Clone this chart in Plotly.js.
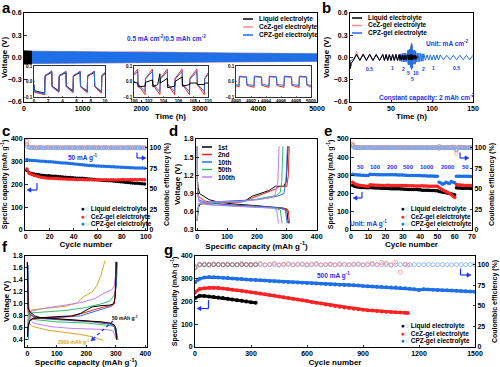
<!DOCTYPE html>
<html><head><meta charset="utf-8">
<script src="https://cdn.plot.ly/plotly-3.0.1.min.js"></script>
<style>html,body{margin:0;padding:0;background:#fff}#chart{width:500px;height:367px}</style>
</head><body><div id="chart"></div>
<script>
// ---------- DATA ----------
// (a) long-term cycling envelope, 0.5 mA cm-2
const aT = [0,500,1000,1500,2000,2500,3000,3500,4000,4500,5000];
const aCpzUp = [0.085,0.08,0.076,0.072,0.07,0.068,0.064,0.06,0.057,0.054,0.05];
const aCpzLo = [-0.08,-0.077,-0.074,-0.071,-0.068,-0.066,-0.063,-0.06,-0.057,-0.054,-0.05];
const aCezUp = [0.085,0.08,0.077,0.074,0.078,0.077,0.066,0.061,0.058,0.055,0.051];
const aCezLo = [-0.082,-0.079,-0.076,-0.073,-0.072,-0.07,-0.065,-0.061,-0.058,-0.055,-0.052];
const aLiqT = [0,20,40,60,80,100,120,135];
const aLiqUp = [0.09,0.09,0.088,0.088,0.087,0.087,0.086,0.086];
const aLiqLo = [-0.09,-0.09,-0.088,-0.088,-0.087,-0.087,-0.086,-0.086];
// insets
const in1T = [0,0.1,1.5,1.55,2.5,2.55,3.5,3.55,4.5,4.55,5.5,5.55,6.5,6.55,7.5,7.55,8.5,8.55,9.5,9.55,10];
const in1Liq = [-0.02,-0.06,-0.075,0.035,0.06,-0.03,-0.06,0.035,0.058,-0.03,-0.06,0.035,0.058,-0.03,-0.062,0.035,0.058,-0.03,-0.065,0.035,0.05];
const in1Cez = [-0.03,-0.07,-0.085,0.03,0.07,-0.035,-0.07,0.03,0.068,-0.035,-0.072,0.03,0.068,-0.035,-0.072,0.03,0.068,-0.035,-0.075,0.03,0.06];
const in1Cpz = [-0.025,-0.065,-0.08,0.04,0.065,-0.03,-0.065,0.04,0.062,-0.03,-0.065,0.04,0.062,-0.03,-0.066,0.04,0.062,-0.03,-0.068,0.04,0.055];
const in2T = [100,100.5,100.55,101.5,101.55,102.5,102.55,103.5,103.55,104.5,104.55,105.5,105.55,106.5,106.55,107.5,107.55,108.5,108.55,109.5,109.55,110];
const in2Cpz = [0.04,0.065,-0.015,-0.065,0.015,0.065,-0.015,-0.065,0.015,0.065,-0.015,-0.065,0.015,0.065,-0.015,-0.065,0.015,0.065,-0.015,-0.065,0.015,0.045];
const in2Cez = [0.05,0.08,-0.02,-0.085,0.02,0.08,-0.02,-0.085,0.02,0.08,-0.02,-0.085,0.02,0.08,-0.02,-0.085,0.02,0.08,-0.02,-0.085,0.02,0.055];
const in2LiqT = [100,100.5,100.55,101.5,101.55,102.5,102.55,103.2,103.5,103.55,104.5,104.55,105.5,105.55,106.5,106.55,107.5,107.55,108.5,108.55,109.5,109.55,110];
const in2Liq = [-0.005,-0.01,-0.035,-0.03,-0.005,0.01,-0.035,-0.02,0.05,-0.01,0.02,-0.04,-0.03,0.0,0.03,-0.03,-0.02,-0.01,-0.01,-0.02,-0.02,-0.01,-0.01];
const in3T = [4990,4990.4,4990.45,4991.4,4991.45,4992.4,4992.45,4993.4,4993.45,4994.4,4994.45,4995.4,4995.45,4996.4,4996.45,4997.4,4997.45,4998.4,4998.45,4999.4,4999.45,5000];
const in3Cpz = [-0.02,-0.025,0.035,0.03,-0.02,-0.025,0.035,0.03,-0.02,-0.025,0.035,0.03,-0.02,-0.025,0.035,0.03,-0.02,-0.025,0.035,0.03,-0.02,-0.025];
const in3Cez = [-0.028,-0.035,0.03,0.028,-0.025,-0.038,0.03,0.028,-0.025,-0.038,0.03,0.028,-0.025,-0.038,0.03,0.028,-0.025,-0.038,0.03,0.028,-0.025,-0.036];

// (b) rate test, 2 mAh cm-2
const bCpzT = [0,4,8,12,16,20,24,28,32,36,40,
 42,44,46,48,50,52,54,56,58,60,
 61,62,63,64,65,66,67,68,69,70,
 70.4,70.8,71.2,71.6,72,72.4,72.8,73.2,73.6,74,
 74.2,74.4,74.6,74.8,75,75.2,75.4,75.6,75.8,76,
 76.4,76.8,77.2,77.6,78,78.4,78.8,79.2,79.6,80,
 81,82,83,84,85,86,87,88,89,90,
 92,94,96,98,100,102,104,106,108,110,
 114,118,122,126,130,134,138,142,146,150];
const bCpzV = [-0.04,-0.03,0.03,-0.03,0.03,-0.03,0.03,-0.03,0.03,-0.03,0.03,
 -0.035,0.035,-0.035,0.035,-0.035,0.035,-0.035,0.035,-0.035,0.035,
 -0.05,0.05,-0.055,0.055,-0.06,0.06,-0.06,0.06,-0.06,0.065,
 -0.09,0.1,-0.1,0.1,-0.1,0.11,-0.1,0.11,-0.1,0.12,
 -0.14,0.15,-0.16,0.17,-0.16,0.18,-0.15,0.17,-0.14,0.16,
 -0.1,0.1,-0.09,0.1,-0.09,0.1,-0.09,0.09,-0.09,0.09,
 -0.06,0.06,-0.06,0.06,-0.055,0.055,-0.05,0.05,-0.05,0.05,
 -0.035,0.035,-0.035,0.035,-0.035,0.035,-0.035,0.035,-0.035,0.035,
 -0.03,0.03,-0.03,0.03,-0.03,0.03,-0.03,0.03,-0.03,0.03];
const bLiqT = [0,0.5,1.5,4,8,12,16,20,24,28,32,36,40,
 42,44,46,48,50,52,54,56,58,60,
 61,62,63,64,65,66,67,68,69,70,
 70.4,70.8,71.2,71.6,72,72.4,72.8,73.2,73.6,74,
 74.2,74.4,74.6,74.8,75,75.2,75.4,75.6,75.8,76,
 76.4,76.8,77.2,77.6,78,78.4,78.8,79.2,79.6,80,
 81,82];
const bLiqV = [-0.05,-0.15,-0.08,-0.04,0.045,-0.04,0.045,-0.04,0.045,-0.04,0.04,-0.04,0.04,
 -0.04,0.04,-0.04,0.04,-0.04,0.04,-0.04,0.04,-0.04,0.04,
 -0.03,0.03,-0.03,0.03,-0.03,0.03,-0.03,0.03,-0.03,0.03,
 -0.03,0.035,-0.03,0.035,-0.03,0.035,-0.03,0.035,-0.03,0.035,
 -0.03,0.04,-0.035,0.045,-0.035,0.04,-0.03,0.04,-0.03,0.04,
 -0.025,0.03,-0.025,0.03,-0.025,0.03,-0.025,0.03,-0.025,0.03,
 -0.02,0.02];
const bCezV = [-0.05,-0.14,-0.07,-0.045,0.08,-0.045,0.05,-0.045,0.05,-0.045,0.05,-0.045,0.05,
 -0.045,0.045,-0.045,0.045,-0.045,0.045,-0.045,0.045,-0.045,0.045,
 -0.045,0.045,-0.05,0.05,-0.05,0.05,-0.05,0.05,-0.05,0.05,
 -0.08,0.09,-0.08,0.1,-0.08,0.1,-0.08,0.1,-0.08,0.1,
 -0.12,0.15,-0.13,0.2,-0.13,0.19,-0.12,0.15,-0.12,0.14,
 -0.08,0.09,-0.08,0.09,-0.08,0.08,-0.08,0.08,-0.08,0.08,
 -0.04,0.04];
const bRateLabels = ['0.5','1','2','5','10','5','2','1','0.5'];

// (c) cycling at 50 mA g-1
const cCyc = [1,3,5,7,9,11,13,15,17,19,21,23,25,27,29,31,33,35,37,39,41,43,45,47,49,51,53,55,57,59,61,63,65,67,69,71,73,75,77,79,81,83,85,87,89,91,93,95,97,99];
const cLiq = [262,252,248,246,244,243,241,240,239,238,237,236,236,235,234,233,232,231,231,230,229,228,228,227,226,225,224,223,222,221,220,219,218,218,217,216,215,214,213,212,211,210,209,208,207,206,205,204,203,202];
const cCez = [268,250,244,240,237,234,232,230,229,228,227,226,226,225,225,224,224,223,223,223,222,222,222,222,221,221,221,221,220,221,221,220,221,221,220,221,221,220,221,221,222,221,221,222,221,222,221,222,221,221];
const cCpz = [310,307,306,305,304,303,302,302,301,300,300,299,298,297,296,295,294,293,292,291,290,289,288,287,286,285,284,283,282,281,281,280,280,279,279,278,278,277,277,276,276,275,275,274,274,273,273,272,272,271];
const cCeLiq = [104,100.3,99.8,100.2,99.9,100.1,100.4,99.7,100,100.2,99.8,100.1,99.9,100.3,100,99.8,100.2,100,99.9,100.1,100.2,99.8,100,100.1,99.9,100.2,99.8,100,100.3,99.9,100.1,99.8,100,100.2,99.9,100.1,100,99.8,100.2,100,99.9,100.1,99.8,100.2,100,99.9,100.1,100,99.8,100.1];
const cCeCez = [108,101,100.5,100.2,100.4,100.1,100.3,99.9,100.2,100.4,100,100.2,100.5,100.1,99.9,100.3,100.2,100,100.4,100.1,100.3,99.9,100.2,100.5,100,100.1,100.3,100.2,99.9,100.4,100.1,100,100.3,100.2,99.9,100.1,100.4,100,100.2,100.1,99.9,100.3,100.2,100,100.1,100.4,100,100.2,99.9,100.1];
const cCeCpz = [101.5,100,99.6,99.8,99.5,99.9,99.7,99.6,99.8,100,99.6,99.7,99.9,99.5,99.8,99.7,99.6,99.9,99.8,99.6,99.7,99.9,99.5,99.8,99.7,99.6,99.9,99.8,99.7,99.6,99.8,99.5,99.7,99.9,99.6,99.8,99.7,99.6,99.9,99.7,99.8,99.6,99.5,99.8,99.7,99.9,99.6,99.8,99.7,99.6];

// (d) charge/discharge profiles (discharge, null, charge)
const dX1 = [0,3,8,20,40,70,120,200,260,290,300,303,305,null,0,3,10,60,160,185,210,240,262,290,298,302,304];
const dY1 = [1.18,1.0,0.9,0.86,0.8,0.76,0.73,0.7,0.68,0.66,0.63,0.5,0.41,null,0.45,0.65,0.74,0.76,0.78,0.86,0.9,0.95,1.02,1.02,1.1,1.4,1.68];
const dX2 = [0,1,5,25,60,110,200,270,300,305,307,309,null,0,5,50,150,180,210,240,265,275,300,305,308];
const dY2 = [1.68,1.0,0.85,0.78,0.74,0.71,0.69,0.67,0.65,0.62,0.5,0.41,null,0.5,0.72,0.75,0.76,0.82,0.88,0.93,0.98,1.02,1.02,1.2,1.68];
const dX10 = [0,1,5,30,100,200,270,295,299,301,null,0,5,40,150,200,240,270,290,297,300,302];
const dY10 = [1.68,0.95,0.8,0.75,0.72,0.69,0.67,0.63,0.5,0.41,null,0.5,0.73,0.76,0.78,0.8,0.83,0.86,0.9,1.1,1.4,1.68];
const dX50 = [0,1,5,30,100,200,260,278,282,284,null,0,5,40,150,200,240,265,278,283,285,287];
const dY50 = [1.68,0.95,0.78,0.72,0.7,0.68,0.66,0.63,0.5,0.41,null,0.45,0.72,0.75,0.77,0.81,0.84,0.87,0.92,1.1,1.4,1.68];
const dX100 = [0,1,5,30,100,200,255,266,270,272,null,0,4,40,150,200,240,260,270,272,274];
const dY100 = [1.68,0.95,0.77,0.72,0.7,0.68,0.66,0.63,0.5,0.41,null,0.45,0.73,0.76,0.77,0.8,0.83,0.86,1.1,1.4,1.68];
const dNames = ['1st','2nd','10th','50th','100th'];

// (e) rate performance
const eCyc = [1,2,3,4,5,6,7,8,9,10,11,12,13,14,15,16,17,18,19,20,21,22,23,24,25,26,27,28,29,30,31,32,33,34,35,36,37,38,39,40,41,42,43,44,45,46,47,48,49,50,51,52,53,54,55,56,57,58,59,60,61,62,63,64,65,66,67,68,69,70];
const eLiq = [245,240,238,236,235,234,233,233,232,232,233,232,232,231,231,231,230,230,230,230,228,228,227,227,227,226,226,226,225,225,224,224,223,223,223,222,222,222,221,221,219,219,218,218,218,217,217,217,216,216,212,210,208,206,204,202,200,198,196,194,232,231,231,230,230,229,229,229,228,228];
const eCez = [262,255,250,247,245,244,243,242,241,240,248,247,247,246,246,246,245,245,245,245,246,246,245,245,245,244,244,244,244,244,244,244,243,243,243,243,242,242,242,242,243,242,242,242,241,241,241,240,240,240,232,226,221,216,211,206,200,194,186,178,250,248,247,246,246,245,245,244,244,243];
const eCpz = [306,304,303,302,302,301,301,300,300,300,306,305,305,305,304,304,304,304,303,303,304,304,303,303,303,303,302,302,302,302,301,301,300,300,300,300,299,299,299,299,298,298,298,297,297,297,297,296,296,296,262,258,252,256,262,258,255,266,262,260,296,296,296,295,295,295,295,295,294,294];
const eCeLiq = [103,100.2,99.8,100.1,100,99.9,100.2,100,99.8,100.1,100.3,100,99.9,100.1,100,99.8,100.2,100,100.1,99.9,100.2,100,99.9,100.1,100,100.2,99.8,100,100.1,99.9,100.1,100,99.9,100.2,100,99.8,100.1,100,100.2,99.9,100.1,100,99.8,100.2,100,99.9,100.1,100,100.2,99.9,99,100.3,100,99.6,100.2,100.4,99.8,100.5,99.5,100.8,97,100.5,100.2,100,99.9,100.1,100,99.8,100.1,100];
const eCeCez = [105,101,100.5,100.3,100.2,100.1,100.3,100,100.2,100.1,100.6,100.3,100.2,100.1,100.3,100,100.2,100.1,100,100.2,100.3,100.1,100,100.2,100.1,100,100.3,100.1,100,100.2,100.2,100.1,100,100.3,100.1,100,100.2,100.1,100,100.2,100.3,100.1,100,100.2,100.1,100,100.2,100.1,100,100.2,100.5,100.2,100.4,100.1,100.6,100.3,100.2,100.8,101,100.5,93,100.8,100.4,100.2,100.1,100.3,100,100.2,100.1,100];
const eCeCpz = [101,100,99.8,99.9,100,99.8,99.9,100,99.8,99.9,100.2,99.9,99.8,100,99.9,99.8,100,99.9,99.8,100,100.1,99.9,99.8,100,99.9,99.8,100,99.9,99.8,100,100.1,99.9,99.8,100,99.9,99.8,100,99.9,99.8,100,100.1,99.9,99.8,100,99.9,99.8,100,99.9,99.8,100,102,100.3,99.6,100.4,99.7,100.2,99.8,100.3,99.6,100.1,98.5,100.2,99.9,100,99.9,99.8,100,99.9,99.8,100];
const eRateLabels = ['50','100','200','500','1000','2000','50'];

// (f) profiles at different rates
const f50X = [0,1,3,10,25,45,100,150,200,250,280,295,300,302,304,null,0,2,8,20,80,150,180,200,220,250,280,292,298,300,302];
const f50Y = [1.7,1.2,0.92,0.86,0.8,0.77,0.75,0.74,0.72,0.7,0.68,0.65,0.6,0.5,0.4,null,0.45,0.6,0.72,0.76,0.78,0.8,0.84,0.9,0.95,0.97,0.98,1.0,1.1,1.3,1.7];
const f100X = [0,1,3,10,30,100,200,260,290,298,301,303,null,0,3,10,50,150,200,230,260,285,295,298,300];
const f100Y = [1.7,1.2,0.88,0.82,0.77,0.75,0.71,0.69,0.66,0.6,0.5,0.4,null,0.5,0.65,0.74,0.77,0.79,0.86,0.9,0.95,0.97,1.0,1.2,1.7];
const f200X = [3,4,8,30,120,220,280,295,300,302,null,3,5,20,100,180,220,260,285,295,300,302];
const f200Y = [1.65,1.0,0.82,0.76,0.73,0.7,0.66,0.62,0.5,0.42,null,0.4,0.7,0.76,0.77,0.8,0.86,0.93,0.96,1.0,1.3,1.7];
const f500X = [0,1,5,20,100,200,260,290,300,305,308,null,0,3,15,60,130,200,250,280,295,302,306];
const f500Y = [1.65,1.0,0.8,0.74,0.7,0.68,0.65,0.63,0.6,0.5,0.4,null,0.45,0.7,0.85,0.87,0.89,0.94,1.0,1.05,1.15,1.3,1.7];
const f1000X = [0,1,5,20,80,150,220,270,290,296,299,null,0,3,15,60,130,190,230,260,285,295,300,303];
const f1000Y = [1.68,1.0,0.78,0.68,0.62,0.59,0.58,0.57,0.55,0.5,0.42,null,0.5,0.75,0.88,0.93,0.98,1.03,1.09,1.18,1.23,1.3,1.5,1.71];
const f2000X = [0,1,5,20,70,130,180,220,250,258,null,0,3,15,70,130,170,190,205,220,235,250,263];
const f2000Y = [1.68,0.9,0.68,0.62,0.56,0.52,0.49,0.45,0.41,0.39,null,0.5,0.8,0.9,0.93,0.96,1.02,1.12,1.16,1.2,1.3,1.48,1.72];

// (g) long cycling at 500 mA g-1
const gCycB = [0,25,50,75,100,125,150,175,200,225,250,275,300,325,350,375,400,425,450,475,500,525,550,575,600,625,650,675,700,725,750,775,800,825,850,875,900,925,950,975,1000,1025,1050,1075,1100,1125,1150,1175,1200,1225,1250,1275,1300,1325,1350,1375,1400,1425,1450,1475,1500];
const gCpz = [285,300,306,308,307,306,304,303,301,300,299,297,296,295,293,292,290,289,288,287,286,285,283,282,281,280,279,278,277,276,275,274,273,272,271,270,268,267,266,265,264,263,262,261,259,258,256,254,251,254,253,252,251,250,249,248,247,246,245,244,243];
const gCeCpz = [98,99.8,100,100.2,99.9,100.1,100,99.8,100.2,100,99.9,100.1,100,99.8,100.2,100,99.9,100.1,100,99.8,100.2,100,99.9,100.1,100,99.8,100.2,100,99.9,100.1,100,99.8,100.2,100,99.9,100.1,100,99.8,100.2,100,99.9,100.1,100,99.8,100.2,100,99.9,100.1,100,99.8,100.2,100,99.9,100.1,100,99.8,100.2,100,99.9,100.1,100];
const gCycR = [0,25,50,75,100,125,150,175,200,225,250,275,300,325,350,375,400,425,450,475,500,525,550,575,600,625,650,675,700,725,750,775,800,825,850,875,900,925,950,975,1000,1025,1050,1075,1100,1125,1140];
const gCez = [240,255,258,260,260,259,257,255,252,250,247,244,241,238,235,232,229,226,222,219,215,212,209,205,202,198,195,191,187,184,180,177,174,171,168,166,164,162,160,158,156,155,154,153,152,151,150];
const gCeCez = [97,99.5,100.8,99.2,101.2,100.5,99.4,101,100.2,99.6,101.5,100.3,99.2,100.8,101.6,99.5,100.4,101.8,99.3,100.6,101.2,99.8,100.5,101,99.4,100.7,101.4,99.6,100.3,100.9,99.5,101.1,100.2,99.7,100.8,101.3,99.4,100.6,101.5,99.8,102.5,101.8,99.5,103,91,100.5,99.6];
const gCycL = [0,25,50,75,100,125,150,175,200,225,250,275,300,325];
const gLiq = [215,225,224,222,220,218,215,212,209,206,203,200,197,194];
const gCeLiq = [96,100.2,99.8,100.1,100,99.9,100.2,100,99.8,100.1,100,99.9,100.2,100];

const seriesNames = ['Liquid electrolyte','CeZ-gel electrolyte','CPZ-gel electrolyte'];
const seriesNamesCE = ['Liquid elelctrolyte','CeZ-gel elelctrolyte','CPZ-gel elelctrolyte'];

// ---------- STYLE ----------
const F = 'Liberation Sans, Arial, sans-serif';
const BLK='#000000', RED='#ff2222', BLU='#1f6fe6', BLK_O='#7a7a7a', RED_O='#ff8c8c', BLU_O='#78aef5', TB='#1c33f0';
const DC = ['#000000','#e8231d','#2d6fe6','#2fbf6f','#c27cf7'];
const FC = ['#000000','#e8231d','#2d6fe6','#2fbf6f','#c27cf7','#d9a520'];
const X = p => p/500, Y = p => 1 - p/367;

function ttl(text, standoff, size){ return {text, standoff, font:{family:F,size:size||8,color:'#000',weight:'bold'}}; }
function axis(o){
  return Object.assign({showline:true, linecolor:'#000', linewidth:1, mirror:true, ticks:'inside', ticklen:2.5, tickwidth:0.8, tickcolor:'#000',
    showgrid:false, zeroline:false, tickfont:{family:F,size:7,color:'#000',weight:'bold'}}, o);
}
function insetAxis(o){
  return axis(Object.assign({ticklen:1.2, tickwidth:0.5, linewidth:0.8, tickfont:{family:F,size:4.5,color:'#000',weight:'bold'}}, o));
}
function tr(x, y, xa, ya, o){ return Object.assign({x, y, xaxis:xa, yaxis:ya, type:'scatter', mode:'lines', hoverinfo:'skip', showlegend:false, cliponaxis:true}, o); }
function band(x, up, lo, xa, ya, c){
  return [tr(x, up, xa, ya, {line:{color:c, width:0.6}}), tr(x, lo, xa, ya, {line:{color:c, width:0.6}, fill:'tonexty', fillcolor:c})];
}
const dot = (c, s) => ({color:c, size:s||3.5});
const ring = (c, s) => ({color:c, size:s||3.5, symbol:'circle-open', line:{width:0.8, color:c}});

const traces = [];
// (a)
traces.push(...band(aT, aCezUp, aCezLo, 'x', 'y', RED_O));
traces.push(...band(aT, aCpzUp, aCpzLo, 'x', 'y', BLU));
traces.push(...band(aLiqT, aLiqUp, aLiqLo, 'x', 'y', BLK));
traces.push(tr(in1T, in1Liq, 'x2','y2',{line:{color:BLK,width:1}}));
traces.push(tr(in1T, in1Cez, 'x2','y2',{line:{color:RED,width:1}}));
traces.push(tr(in1T, in1Cpz, 'x2','y2',{line:{color:BLU,width:1}}));
traces.push(tr(in2T, in2Cez, 'x3','y3',{line:{color:RED,width:1}}));
traces.push(tr(in2T, in2Cpz, 'x3','y3',{line:{color:BLU,width:1}}));
traces.push(tr(in2LiqT, in2Liq, 'x3','y3',{line:{color:BLK,width:1}}));
traces.push(tr(in3T, in3Cez, 'x4','y4',{line:{color:RED,width:1}}));
traces.push(tr(in3T, in3Cpz, 'x4','y4',{line:{color:BLU,width:1}}));
// (b)
traces.push(tr(bLiqT, bCezV, 'x5','y5',{line:{color:RED_O,width:1}}));
traces.push(tr(bCpzT, bCpzV, 'x5','y5',{line:{color:BLU,width:1}}));
traces.push(tr(bLiqT, bLiqV, 'x5','y5',{line:{color:BLK,width:1}}));
// (c)
traces.push(tr(cCyc, cLiq, 'x6','y6',{mode:'lines+markers', line:{color:BLK,width:1.5}, marker:dot(BLK)}));
traces.push(tr(cCyc, cCez, 'x6','y6',{mode:'lines+markers', line:{color:RED,width:1.5}, marker:dot(RED)}));
traces.push(tr(cCyc, cCpz, 'x6','y6',{mode:'lines+markers', line:{color:BLU,width:1.5}, marker:dot(BLU)}));
traces.push(tr(cCyc, cCeLiq, 'x6','y7',{mode:'markers', marker:ring(BLK_O)}));
traces.push(tr(cCyc, cCeCez, 'x6','y7',{mode:'markers', marker:ring(RED_O)}));
traces.push(tr(cCyc, cCeCpz, 'x6','y7',{mode:'markers', marker:ring(BLU_O)}));
// (d)
[[dX1,dY1],[dX2,dY2],[dX10,dY10],[dX50,dY50],[dX100,dY100]].forEach((p,i)=>{
  traces.push(tr(p[0], p[1], 'x8','y8',{line:{color:DC[i],width:1}, connectgaps:false}));
});
// (e)
traces.push(tr(eCyc, eLiq, 'x9','y9',{mode:'markers', marker:dot(BLK)}));
traces.push(tr(eCyc, eCez, 'x9','y9',{mode:'markers', marker:dot(RED)}));
traces.push(tr(eCyc, eCpz, 'x9','y9',{mode:'markers', marker:dot(BLU)}));
traces.push(tr(eCyc, eCeLiq, 'x9','y10',{mode:'markers', marker:ring(BLK_O)}));
traces.push(tr(eCyc, eCeCez, 'x9','y10',{mode:'markers', marker:ring(RED_O)}));
traces.push(tr(eCyc, eCeCpz, 'x9','y10',{mode:'markers', marker:ring(BLU_O)}));
// (f)
[[f2000X,f2000Y,5],[f1000X,f1000Y,4],[f500X,f500Y,3],[f200X,f200Y,2],[f100X,f100Y,1],[f50X,f50Y,0]].forEach(p=>{
  traces.push(tr(p[0], p[1], 'x11','y11',{line:{color:FC[p[2]],width:1}, connectgaps:false}));
});
// (g)
traces.push(tr(gCycB, gCeCpz, 'x12','y13',{mode:'markers', marker:ring(BLU_O,4)}));
traces.push(tr(gCycR, gCeCez, 'x12','y13',{mode:'markers', marker:ring(RED_O,4)}));
traces.push(tr(gCycL, gCeLiq, 'x12','y13',{mode:'markers', marker:ring(BLK_O,4)}));
traces.push(tr(gCycB, gCpz, 'x12','y12',{mode:'lines+markers', line:{color:BLU,width:3}, marker:dot(BLU,4)}));
traces.push(tr(gCycR, gCez, 'x12','y12',{mode:'lines+markers', line:{color:RED,width:3}, marker:dot(RED,4)}));
traces.push(tr(gCycL, gLiq, 'x12','y12',{mode:'lines+markers', line:{color:BLK,width:3}, marker:dot(BLK,4)}));

// ---------- LAYOUT ----------
const CAP = 'Specific capacity (mAh g<sup>-1</sup>)';
const layout = {
  width:500, height:367, margin:{l:0,r:0,t:0,b:0}, paper_bgcolor:'#fff', plot_bgcolor:'rgba(0,0,0,0)', showlegend:false,
  font:{family:F, color:'#000'},
  xaxis: axis({domain:[X(24),X(317)], range:[0,5000], tickvals:[0,1000,2000,3000,4000,5000], anchor:'y', title:ttl('Time (h)',1)}),
  yaxis: axis({domain:[Y(102),Y(13)], range:[-0.6,0.6], dtick:0.3, tickformat:'.1f', anchor:'x', title:ttl('Voltage (V)',2)}),
  xaxis2: insetAxis({domain:[X(34),X(105)], range:[0,10], dtick:2, anchor:'y2'}),
  yaxis2: insetAxis({domain:[Y(97),Y(66)], range:[-0.1,0.1], tickvals:[-0.1,0,0.1], tickformat:'.1f', anchor:'x2'}),
  xaxis3: insetAxis({domain:[X(134),X(208)], range:[100,110], dtick:2, anchor:'y3'}),
  yaxis3: insetAxis({domain:[Y(97),Y(66)], range:[-0.1,0.1], tickvals:[-0.1,0,0.1], tickformat:'.1f', anchor:'x3'}),
  xaxis4: insetAxis({domain:[X(236),X(311)], range:[4990,5000], tickvals:[4990,4992,4994,4996,4998,5000], anchor:'y4'}),
  yaxis4: insetAxis({domain:[Y(97),Y(66)], range:[-0.1,0.1], tickvals:[-0.1,0,0.1], tickformat:'.1f', anchor:'x4'}),
  xaxis5: axis({domain:[X(350),X(473)], range:[0,150], dtick:50, anchor:'y5', title:ttl('Time (h)',1)}),
  yaxis5: axis({domain:[Y(102),Y(13)], range:[-0.6,0.6], dtick:0.3, tickformat:'.1f', anchor:'x5', title:ttl('Voltage (V)',2)}),
  xaxis6: axis({domain:[X(25),X(147)], range:[-0.6,101], dtick:20, anchor:'y6', title:ttl('Cycle number',1)}),
  yaxis6: axis({domain:[Y(230),Y(139)], range:[0,400], dtick:100, anchor:'x6', title:ttl(CAP,2,7)}),
  yaxis7: axis({domain:[Y(230),Y(139)], range:[0,110.5], tickvals:[0,25,50,75,100], anchor:'x6', overlaying:'y6', side:'right', mirror:false, title:ttl('Coulombic efficiency (%)',3,7)}),
  xaxis8: axis({domain:[X(196),X(317)], range:[-4,401], dtick:100, anchor:'y8', title:ttl(CAP,1)}),
  yaxis8: axis({domain:[Y(230),Y(139)], range:[0.3,1.8], dtick:0.3, tickformat:'.1f', anchor:'x8', title:ttl('Voltage (V)',2)}),
  xaxis9: axis({domain:[X(351),X(472)], range:[0,70], dtick:10, anchor:'y9', title:ttl('Cycle number',1)}),
  yaxis9: axis({domain:[Y(230),Y(139)], range:[0,500], dtick:100, anchor:'x9', title:ttl(CAP,2,7)}),
  yaxis10: axis({domain:[Y(230),Y(139)], range:[0,110.5], tickvals:[0,25,50,75,100], anchor:'x9', overlaying:'y9', side:'right', mirror:false, title:ttl('Coulombic efficiency (%)',3,7)}),
  xaxis11: axis({domain:[X(25),X(147)], range:[-8,406], dtick:100, anchor:'y11', title:ttl(CAP,1)}),
  yaxis11: axis({domain:[Y(347),Y(256)], range:[0.28,1.8], tickvals:[0.4,0.6,0.8,1.0,1.2,1.4,1.6,1.8], tickformat:'.1f', anchor:'x11', title:ttl('Voltage (V)',2)}),
  xaxis12: axis({domain:[X(195),X(475)], range:[0,1500], dtick:300, anchor:'y12', title:ttl('Cycle number',2)}),
  yaxis12: axis({domain:[Y(347),Y(256)], range:[0,400], dtick:100, anchor:'x12', title:ttl(CAP,2,7)}),
  yaxis13: axis({domain:[Y(347),Y(256)], range:[0,110.5], tickvals:[0,25,50,75,100], anchor:'x12', overlaying:'y12', side:'right', mirror:false, title:ttl('Coulombic efficiency (%)',3,7)}),
  annotations:[], shapes:[]
};

function ann(px, py, text, o){
  const base = {xref:'paper', yref:'paper', x:X(px), y:Y(py), text, showarrow:false, xanchor:'center', yanchor:'middle',
    font:{family:F, size:7, color:'#000', weight:'bold'}};
  return Object.assign(base, o||{});
}
const A = layout.annotations, S = layout.shapes;
// panel letters
[['a',6,8],['b',326,8],['c',6,130],['d',173,130],['e',328,130],['f',5,247],['g',168,249]].forEach(l=>{
  A.push(ann(l[1], l[2], l[0], {font:{family:F,size:15,color:'#000',weight:'bold'}}));
});
// line legends (a, b, d)
function lineLegend(x0, ys, names, colors, size){
  ys.forEach((y,i)=>{
    S.push({type:'line', xref:'paper', yref:'paper', x0:X(x0), x1:X(x0+10), y0:Y(y), y1:Y(y), line:{color:colors[i], width:1.5}});
    A.push(ann(x0+14, y, names[i], {xanchor:'left', font:{family:F,size:size||6.5,color:'#000',weight:'bold'}}));
  });
}
lineLegend(243, [19,27,35], seriesNames, [BLK, RED_O, BLU]);
lineLegend(352, [18,25.5,33], seriesNames, [BLK, RED_O, BLU]);
lineLegend(202, [147,154.5,162,169.5,177], dNames, DC, 6.5);
// dot legends (c, e, g)
function dotLegend(x0, ys, labels){
  const fc=[BLK,RED,BLU], oc=[BLK_O,RED_O,BLU_O];
  ys.forEach((y,i)=>{
    A.push(ann(x0, y, '<span style="color:'+fc[i]+'">●</span><span style="color:'+oc[i]+'">○</span> '+labels[i], {xanchor:'left', font:{family:F,size:6.5,color:'#000',weight:'bold'}}));
  });
}
dotLegend(79, [209,216.5,224], seriesNamesCE);
dotLegend(399, [209,216.5,224], seriesNamesCE);
dotLegend(399, [326,333.5,341], seriesNames);
// texts
A.push(ann(166, 38, '0.5 mA cm<sup>-2</sup>/0.5 mAh cm<sup>-2</sup>', {font:{family:F,size:6.5,color:TB,weight:'bold'}}));
A.push(ann(447, 43, 'Unit: mA cm<sup>-2</sup>', {font:{family:F,size:6.5,color:TB,weight:'bold'}}));
A.push(ann(427, 97, 'Constant capacity: 2 mAh cm<sup>-2</sup>', {font:{family:F,size:6.5,color:TB,weight:'bold'}}));
[[369,69],[392,68],[403,69],[408,73],[416,73],[412,79],[423,69],[433,68],[456,68]].forEach((p,i)=>{
  A.push(ann(p[0], p[1], bRateLabels[i], {font:{family:F,size:5,color:TB,weight:'bold'}}));
});
A.push(ann(83, 157, '50 mA g<sup>-1</sup>', {font:{family:F,size:6.5,color:TB,weight:'bold'}}));
[360,375,392,408,427,448,465].forEach((x,i)=>{
  A.push(ann(x, 167, eRateLabels[i], {font:{family:F,size:6,color:TB,weight:'bold'}}));
});
A.push(ann(368, 223, 'Unit: mA g<sup>-1</sup>', {font:{family:F,size:6.5,color:TB,weight:'bold'}}));
A.push(ann(333, 275, '500 mA g<sup>-1</sup>', {font:{family:F,size:6.5,color:TB,weight:'bold'}}));
A.push(ann(125, 318, '50 mAh g<sup>-1</sup>', {font:{family:F,size:5,color:'#000',weight:'bold'}}));
A.push(ann(73, 342, '2000 mAh g<sup>-1</sup>', {font:{family:F,size:5,color:FC[5],weight:'bold'}}));
// arrows drawn as shapes (line + triangular head), in page pixels converted to paper
function tri(tipX, tipY, dx, dy){
  // dx,dy: unit direction of arrow travel
  const L = 4, W = 2.2;
  const bx = tipX - dx*L, by = tipY - dy*L;
  const px = -dy*W, py = dx*W;
  const pts = [[tipX,tipY],[bx+px,by+py],[bx-px,by-py]];
  const d = 'M' + pts.map(p => X(p[0]).toFixed(5)+','+Y(p[1]).toFixed(5)).join(' L') + ' Z';
  S.push({type:'path', xref:'paper', yref:'paper', path:d, fillcolor:TB, line:{color:TB, width:0.5}});
}
function bentArrow(vx, vy0, vy1, hx){
  const dir = hx < vx ? -1 : 1;
  S.push({type:'line', xref:'paper', yref:'paper', x0:X(vx), x1:X(vx), y0:Y(vy0), y1:Y(vy1), line:{color:TB, width:1.2}});
  S.push({type:'line', xref:'paper', yref:'paper', x0:X(vx), x1:X(hx - dir*3.5), y0:Y(vy1), y1:Y(vy1), line:{color:TB, width:1.2}});
  tri(hx, vy1, dir, 0);
}
bentArrow(37, 183, 190, 27);
bentArrow(137, 152.5, 158, 146);
bentArrow(362, 192, 198, 353);
bentArrow(460, 152.5, 158, 469);
bentArrow(208.5, 300, 308.5, 197);
bentArrow(460.5, 268.5, 275, 471);
// dashed arrow in f
S.push({type:'line', xref:'paper', yref:'paper', x0:X(113), y0:Y(321), x1:X(94), y1:Y(338), line:{color:TB, width:1.2, dash:'dot'}});
tri(91, 341, -0.74, 0.67);

Plotly.newPlot('chart', traces, layout, {staticPlot:true, displayModeBar:false});
</script></body></html>
